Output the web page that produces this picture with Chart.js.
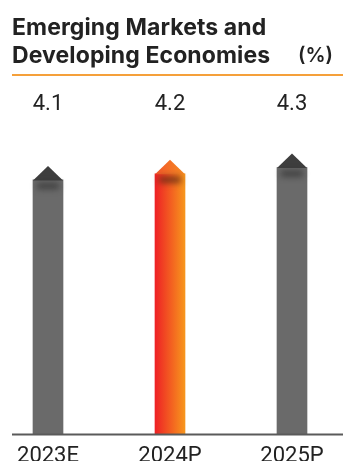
<!DOCTYPE html>
<html>
<head>
<meta charset="utf-8">
<script src="https://cdn.jsdelivr.net/npm/chart.js@4.4.1/dist/chart.umd.min.js"></script>
<style>
    html, body { margin: 0; padding: 0; background: #fff; overflow: hidden; }
    #wrap { position: relative; width: 343px; height: 461px; overflow: hidden; }
    #title {
        position: absolute; left: 12px; top: 13px;
        font-family: Inter, sans-serif; font-weight: 700; font-size: 23px;
        line-height: 28px; color: #222; letter-spacing: 0.1px;
    }
    #unit {
        position: absolute; right: 10px; top: 41px;
        font-family: Inter, sans-serif; font-weight: 600; font-size: 20px;
        line-height: 28px; color: #222;
    }
    #rule { position: absolute; left: 12px; right: 0; top: 74px; height: 2px; background: #f5a03a; }
    canvas { position: absolute; left: 0; top: 0; }
</style>
</head>
<body>
<div id="wrap">
    <canvas id="chart" width="343" height="480"></canvas>
    <div id="title">Emerging Markets and<br>Developing Economies</div>
    <div id="unit">(%)</div>
    <div id="rule"></div>
</div>
<script>
// Data
const years = ['2023E', '2024P', '2025P'];
const growth = [4.1, 4.2, 4.3];
const highlight = [false, true, false];

const grayBody = '#6a6a6a';
const grayCap = '#3e3e3e';

// Horizontal red-orange gradient for the highlighted bar
function barFill(context) {
    const chart = context.chart;
    const i = context.dataIndex;
    if (!highlight[i]) return grayBody;
    const x = chart.scales.x ? chart.scales.x.getPixelForValue(i) : 0;
    const g = chart.ctx.createLinearGradient(x - 15, 0, x + 15, 0);
    g.addColorStop(0, '#ee2125');
    g.addColorStop(1, '#f7961d');
    return g;
}

// Arrow caps, shadows, value labels and axis line
const arrowBars = {
    id: 'arrowBars',
    afterDatasetsDraw(chart) {
        const ctx = chart.ctx;
        const meta = chart.getDatasetMeta(0);
        meta.data.forEach((bar, i) => {
            const w = bar.width;
            const left = bar.x - w / 2;
            const top = bar.y;

            // cap
            ctx.save();
            if (highlight[i]) {
                const g = ctx.createLinearGradient(left, 0, left + w, 0);
                g.addColorStop(0, '#f2562a');
                g.addColorStop(1, '#f58a22');
                ctx.fillStyle = g;
            } else {
                ctx.fillStyle = grayCap;
            }
            ctx.beginPath();
            ctx.moveTo(left, top + 0.5);
            ctx.lineTo(bar.x, top - 14);
            ctx.lineTo(left + w, top + 0.5);
            ctx.closePath();
            ctx.fill();
            ctx.restore();

            // soft shadow under the cap
            ctx.save();
            ctx.filter = 'blur(3px)';
            ctx.fillStyle = highlight[i] ? 'rgba(90,40,20,0.85)' : 'rgba(50,50,50,0.8)';
            ctx.fillRect(left + 4, top + 3, w - 8, 6);
            ctx.restore();

            // value label
            ctx.save();
            ctx.font = '22px Roboto, sans-serif';
            ctx.fillStyle = '#222';
            ctx.textAlign = 'center';
            ctx.textBaseline = 'alphabetic';
            ctx.fillText(growth[i].toFixed(1), bar.x, 110);
            ctx.restore();
        });

        // baseline
        const y = chart.chartArea.bottom;
        ctx.save();
        ctx.strokeStyle = '#5a5a5a';
        ctx.lineWidth = 2;
        ctx.beginPath();
        ctx.moveTo(12, y + 1);
        ctx.lineTo(343, y + 1);
        ctx.stroke();
        ctx.restore();
    }
};

new Chart(document.getElementById('chart'), {
    type: 'bar',
    data: {
        labels: years,
        datasets: [{
            data: growth,
            backgroundColor: barFill,
            barThickness: 30,
            borderWidth: 0,
            clip: false
        }]
    },
    options: {
        responsive: false,
        animation: false,
        events: [],
        layout: { padding: { top: 149, left: 48, right: 51, bottom: 0 } },
        plugins: { legend: { display: false }, tooltip: { enabled: false } },
        scales: {
            x: {
                offset: false,
                grid: { display: false, drawTicks: false },
                border: { display: false },
                ticks: {
                    padding: 10,
                    color: '#222',
                    font: { family: 'Roboto, sans-serif', size: 22 },
                    maxRotation: 0,
                    autoSkip: false
                }
            },
            y: {
                display: false,
                min: 0,
                max: 4.6
            }
        }
    },
    plugins: [arrowBars]
});
</script>
</body>
</html>
